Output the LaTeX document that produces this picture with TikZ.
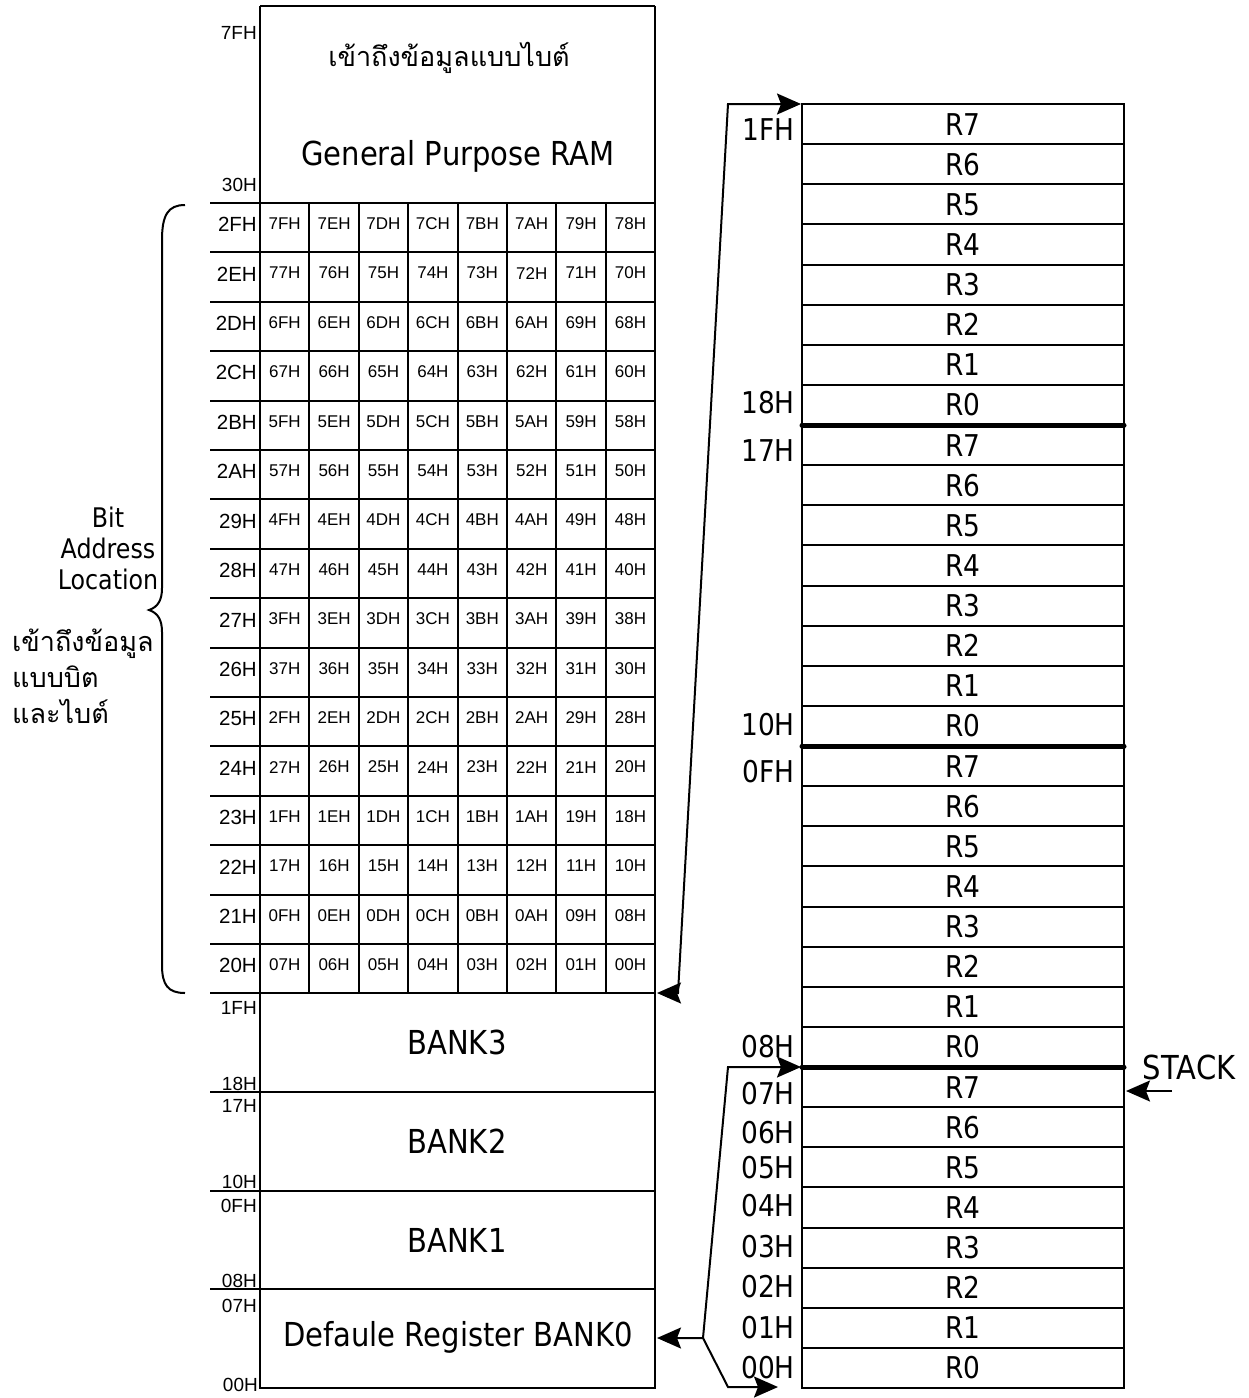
\documentclass[tikz,border=0pt]{standalone}
\usepackage{fontspec}
\setmainfont{Liberation Sans}
\newfontfamily\tahoma[FakeStretch=0.88]{DejaVu Sans}
\newfontfamily\thaifont[Script=Thai]{Loma}
\usetikzlibrary{arrows.meta}

\newcommand{\fsize}[1]{\fontsize{#1}{#1}\selectfont}
\newcommand{\hexaddr}[1]{\pgfmathparse{Hex(#1)}\ifnum#1<16 0\fi\pgfmathresult H}

\tikzset{
  memline/.style={line width=2pt},
  bankline/.style={line width=5pt,line cap=round},
  bitcell/.style={inner sep=0pt,font=\fsize{17}},
  rowaddr/.style={inner sep=0pt,anchor=east,font=\fsize{20.5}},
  smalladdr/.style={inner sep=0pt,anchor=east,font=\fsize{19}},
  regaddr/.style={inner sep=0pt,anchor=east,font=\tahoma\fsize{30}},
  reglabel/.style={inner sep=0pt,font=\tahoma\fsize{30}},
  banklabel/.style={inner sep=0pt,font=\tahoma\fsize{33}},
}

\begin{document}
\begin{tikzpicture}[x=1pt,y=-1pt,>={Stealth[length=24pt,width=21pt,inset=4pt]}]
  \useasboundingbox (0,0) rectangle (1249,1398);

  % Left: internal RAM 00H-7FH
  \draw[memline] (260,6) -- (655,6);
  \draw[memline] (260,6) -- (260,1388) -- (655,1388) -- (655,6);
  \foreach \r in {0,...,16}
    \draw[memline] (210,{203+49.4*\r}) -- (655,{203+49.4*\r});
  \foreach \c in {1,...,7}
    \draw[memline] ({260+49.4*\c},203) -- ({260+49.4*\c},993);
  \foreach \y in {1091.8,1190.6,1289.4}
    \draw[memline] (210,\y) -- (655,\y);

  % byte area
  \node[inner sep=0pt,font=\thaifont\fsize{27}] (bytethai) at (449,58) {เข้าถึงข้อมูลแบบไบต์};
  \node[banklabel] (gpram) at (458,156) {General Purpose RAM};
  \node[smalladdr] (a7f) at (257,33) {7FH};
  \node[smalladdr] (a30) at (257,185) {30H};

  % bit addressable area 20H-2FH
  \foreach \r in {0,...,15}{
    \pgfmathtruncatemacro\byteno{47-\r}
    \node[rowaddr] (row\r) at (257,{203+49.4*(\r+0.5)-3}) {\hexaddr{\byteno}};
    \foreach \c in {0,...,7}{
      \pgfmathtruncatemacro\bitno{8*(15-\r)+7-\c}
      \node[bitcell] (bit\r-\c) at ({260+49.4*(\c+0.5)},{203+49.4*(\r+0.5)-4}) {\hexaddr{\bitno}};
    }
  }

  % register banks
  \node[banklabel] (bank3) at (457,1042) {BANK3};
  \node[banklabel] (bank2) at (457,1141) {BANK2};
  \node[banklabel] (bank1) at (457,1240) {BANK1};
  \node[banklabel] (bank0) at (458,1337) {Defaule Register BANK0};
  \node[smalladdr] (a1f) at (257,1008) {1FH};
  \node[smalladdr] (a18) at (257,1084) {18H};
  \node[smalladdr] (a17) at (257,1106) {17H};
  \node[smalladdr] (a10) at (257,1182) {10H};
  \node[smalladdr] (a0f) at (257,1206) {0FH};
  \node[smalladdr] (a08) at (257,1281) {08H};
  \node[smalladdr] (a07) at (257,1306) {07H};
  \node[smalladdr] (a00) at (258,1385) {00H};

  % brace and side notes
  \draw[memline] (185,205) .. controls (168,205) and (162,215) .. (162,240) -- (162,588)
                 .. controls (162,600) and (158,607) .. (149,610)
                 .. controls (158,613) and (162,620) .. (162,632) -- (162,965)
                 .. controls (162,985) and (168,993) .. (185,993);
  \node[align=center,inner sep=0pt,font=\tahoma\fontsize{27}{31}\selectfont] (bitloc) at (108,548) {Bit\\Address\\Location};
  \node[align=left,inner sep=0pt,anchor=west,font=\thaifont\fontsize{27}{36}\selectfont] (bitthai) at (12,676) {เข้าถึงข้อมูล\\แบบบิต\\และไบต์};

  % Right: registers R0-R7 of the four banks
  \draw[memline] (802,104) rectangle (1124,1388);
  \foreach \i in {1,...,31}
    \draw[memline] (802,{104+40.125*\i}) -- (1124,{104+40.125*\i});
  \foreach \i in {8,16,24}
    \draw[bankline] (802,{104+40.125*\i}) -- (1124,{104+40.125*\i});
  \foreach \i in {0,...,31}{
    \pgfmathtruncatemacro\regno{7-mod(\i,8)}
    \node[reglabel] (reg\i) at (963,{104+40.125*(\i+0.5)}) {R\regno};
  }
  \node[regaddr] (r1f) at (795,130) {1FH};
  \node[regaddr] (r18) at (795,403) {18H};
  \node[regaddr] (r17) at (795,451) {17H};
  \node[regaddr] (r10) at (795,725) {10H};
  \node[regaddr] (r0f) at (795,772) {0FH};
  \node[regaddr] (r08) at (795,1047) {08H};
  \node[regaddr] (r07) at (795,1094) {07H};
  \node[regaddr] (r06) at (795,1133) {06H};
  \node[regaddr] (r05) at (795,1168) {05H};
  \node[regaddr] (r04) at (795,1206) {04H};
  \node[regaddr] (r03) at (795,1247) {03H};
  \node[regaddr] (r02) at (795,1287) {02H};
  \node[regaddr] (r01) at (795,1328) {01H};
  \node[regaddr] (r00) at (795,1368) {00H};
  \node[inner sep=0pt,font=\tahoma\fsize{33}] (stack) at (1189,1067) {STACK};

  % connectors
  \coordinate (bitbot) at (657,993);
  \coordinate (regtop) at (801,104);
  \coordinate (up1) at (728,104);
  \coordinate (up2) at (678,993);
  \draw[memline,<->] (bitbot) -- (up2) -- (up1) -- (regtop);

  \coordinate (bank0r) at (657,1338);
  \coordinate (fork) at (703,1338);
  \coordinate (lo1) at (728,1067);
  \coordinate (reg08) at (801,1067);
  \coordinate (lo2) at (728,1387);
  \coordinate (reg00) at (778,1387);
  \draw[memline,<->] (bank0r) -- (fork) -- (lo1) -- (reg08);
  \draw[memline,->] (fork) -- (lo2) -- (reg00);

  \coordinate (sp) at (1172,1091);
  \coordinate (spend) at (1126,1091);
  \draw[memline,->] (sp) -- (spend);
\end{tikzpicture}
\end{document}
